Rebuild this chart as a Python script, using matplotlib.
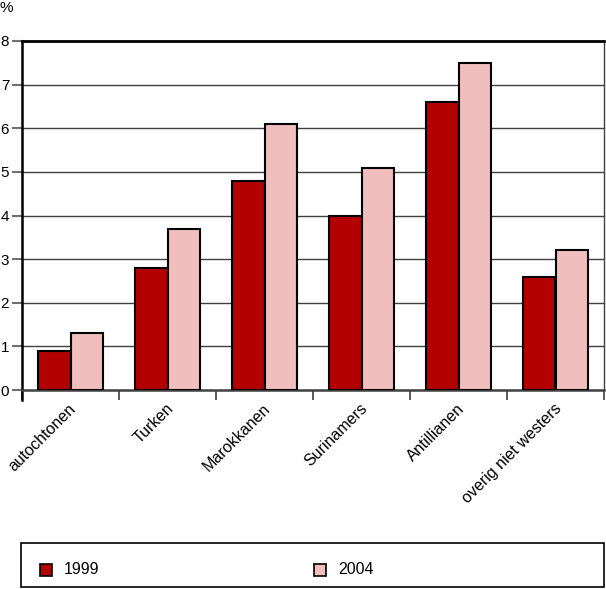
import matplotlib
matplotlib.use("Agg")
import matplotlib.pyplot as plt
import matplotlib.patches as mpatches
import numpy as np

categories = ["autochtonen", "Turken", "Marokkanen", "Surinamers", "Antillianen", "overig niet westers"]
values_1999 = [0.9, 2.8, 4.8, 4.0, 6.6, 2.6]
values_2004 = [1.3, 3.7, 6.1, 5.1, 7.5, 3.2]
series_labels = ["1999", "2004"]
yticks = [0, 1, 2, 3, 4, 5, 6, 7, 8]

c1 = "#b30000"
c2 = "#f0bfbd"

plt.rcParams['font.family'] = ['Liberation Sans', 'DejaVu Sans']

W, H = 606, 589
fig = plt.figure(figsize=(W / 100, H / 100), dpi=100)
ax = fig.add_axes([22 / W, 1 - 390 / H, (604 - 22) / W, (390 - 41) / H])

x = np.arange(len(categories))
bw = 0.335
ax.bar(x - bw / 2, values_1999, bw, color=c1, edgecolor="black", linewidth=1.5, zorder=3)
ax.bar(x + bw / 2, values_2004, bw, color=c2, edgecolor="black", linewidth=1.5, zorder=3)

ax.set_xlim(-0.5, len(categories) - 0.5)
ax.set_ylim(0, 8)
ax.set_yticks(yticks)
ax.set_yticklabels([str(v) for v in yticks], fontsize=11)
for v in yticks[1:-1]:
    ax.axhline(v, color="#404040", linewidth=1.0, zorder=1)

# category boundary ticks
ax.set_xticks(np.arange(len(categories) + 1) - 0.5)
ax.set_xticklabels([])
ax.tick_params(axis="x", length=7.2, width=1.2, color="#404040", direction="out")
ax.tick_params(axis="y", length=7.2, width=1.5, color="#707070", pad=2)

for i, c in enumerate(categories):
    ax.text(i - 0.02, -0.25, c, rotation=45, ha="right", va="top",
            rotation_mode="anchor", fontsize=11.5, transform=ax.transData)

ax.spines["top"].set_linewidth(2.0)
ax.spines["top"].set_color("black")
ax.spines["left"].set_linewidth(1.8)
ax.spines["left"].set_color("black")
ax.spines["left"].set_bounds(-0.22, 8)
ax.spines["right"].set_linewidth(1.0)
ax.spines["right"].set_color("#404040")
ax.spines["bottom"].set_linewidth(1.8)
ax.spines["bottom"].set_color("#404040")

fig.text(0 / W, 1 - 8 / H, "%", fontsize=11, ha="left", va="center")

# legend box
fig.patches.append(mpatches.Rectangle((21 / W, 1 - 587 / H), (604 - 21) / W, (587 - 543) / H,
                                      transform=fig.transFigure, fill=False,
                                      edgecolor="black", linewidth=1.2))
for xm, col, lab in [(40, c1, series_labels[0]), (314, c2, series_labels[1])]:
    fig.patches.append(mpatches.Rectangle((xm / W, 1 - 576 / H), 12 / W, 12 / H,
                                          transform=fig.transFigure, facecolor=col,
                                          edgecolor="black", linewidth=1.2))
    fig.text((xm + 24) / W, 1 - 570 / H, lab, fontsize=11.5, ha="left", va="center")

fig.savefig("out.png", dpi=100)
